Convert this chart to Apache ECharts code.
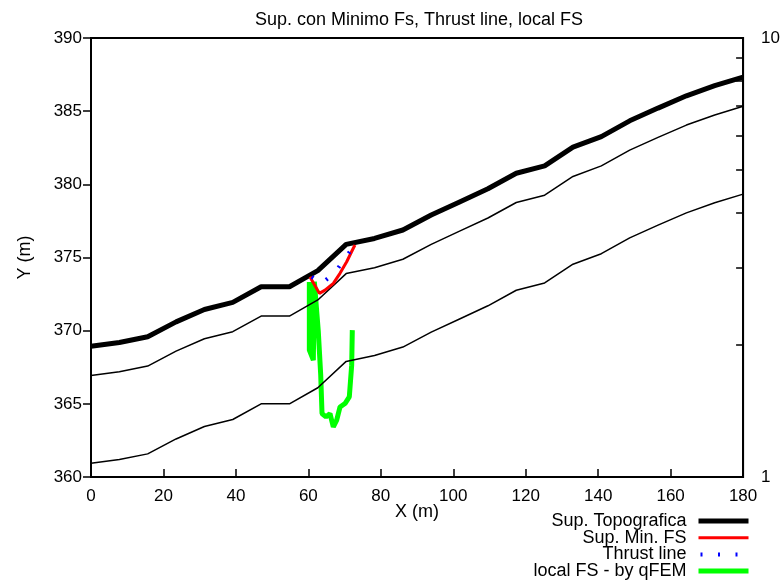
<!DOCTYPE html>
<html>
<head>
<meta charset="utf-8">
<script src="https://cdn.jsdelivr.net/npm/echarts@6/dist/echarts.min.js"></script>
<style>html,body{margin:0;padding:0;background:#fff}#c{width:783px;height:585px}</style>
</head>
<body>
<div id="c"></div>
<script>
// ---- data ----
var profileX = [0, 7.83, 15.65, 23.48, 31.3, 39.13, 46.96, 54.78, 62.61, 70.43, 78.26, 86.09, 93.91, 101.74, 109.57, 117.39, 125.22, 133.04, 140.87, 148.7, 156.52, 164.35, 172.17, 180];
var topoY = [368.94, 369.19, 369.58, 370.6, 371.45, 371.93, 373.0, 373.0, 374.1, 375.9, 376.3, 376.88, 377.9, 378.8, 379.7, 380.76, 381.26, 382.54, 383.26, 384.34, 385.21, 386.05, 386.74, 387.33];
var layer1Y = [366.94, 367.19, 367.58, 368.6, 369.45, 369.93, 371.0, 371.0, 372.1, 373.9, 374.3, 374.88, 375.9, 376.8, 377.7, 378.76, 379.26, 380.54, 381.26, 382.34, 383.21, 384.05, 384.74, 385.33];
var layer2Y = [360.94, 361.19, 361.58, 362.6, 363.45, 363.93, 365.0, 365.0, 366.1, 367.9, 368.3, 368.88, 369.9, 370.8, 371.7, 372.76, 373.26, 374.54, 375.26, 376.34, 377.21, 378.05, 378.74, 379.33];

var slipX = [60.46, 60.93, 63.03, 64.6, 66.89, 68.73, 70.58, 72.4, 72.87];
var slipY = [373.68, 373.46, 372.55, 372.77, 373.23, 373.92, 374.71, 375.63, 375.85];

var thrustX = [60.46, 63.69, 67.36, 70.11, 72.3];
var thrustY = [373.75, 373.23, 373.98, 374.94, 375.7];

var fsX = [60.27, 60.27, 61.37, 61.65, 62.75, 63.41, 63.77, 64.87, 65.97, 66.89, 67.82, 68.74, 70.11, 71.3, 71.96, 72.13];
var fsVal = [2.78, 1.945, 1.846, 2.785, 2.142, 1.706, 1.395, 1.37, 1.395, 1.30, 1.347, 1.444, 1.47, 1.522, 1.798, 2.161];

var xTicks = [0, 20, 40, 60, 80, 100, 120, 140, 160, 180];
var yTicks = [360, 365, 370, 375, 380, 385, 390];
var fsTicks = [1, 2, 3, 4, 5, 6, 7, 8, 9, 10];
var fsLabels = [1, 10];

var names = ['Sup. Topografica', 'Sup. Min. FS', 'Thrust line', 'local FS - by qFEM'];
var titleText = 'Sup. con Minimo Fs, Thrust line, local FS';

function zip(a, b) { return a.map(function (v, i) { return [v, b[i]]; }); }

var FONT = 'Liberation Sans';
var chart = echarts.init(document.getElementById('c'));
chart.setOption({
  animation: false,
  backgroundColor: '#fff',
  textStyle: { fontFamily: FONT, color: '#000' },
  title: {
    text: titleText, left: 250, top: 6,
    textStyle: { fontFamily: FONT, fontSize: 18, fontWeight: 'normal', color: '#000' }
  },
  grid: { left: 91, right: 39, top: 38, bottom: 108, show: true, borderColor: '#000', borderWidth: 2, containLabel: false },
  legend: {
    data: names,
    orient: 'vertical',
    right: 32, top: 512, height: 80,
    padding: 0,
    align: 'right',
    itemWidth: 50, itemHeight: 6, itemGap: -1.3,
    itemStyle: { opacity: 0 },
    lineStyle: { width: 'inherit' },
    textStyle: { fontFamily: FONT, fontSize: 18, color: '#000', width: 170, align: 'right', lineHeight: 17, padding: [0, 7, 0, 0] }
  },
  xAxis: {
    type: 'value', min: xTicks[0], max: xTicks[xTicks.length - 1], interval: 20,
    name: 'X (m)', nameLocation: 'middle', nameGap: 26, nameMoveOverlap: false,
    nameTextStyle: { fontFamily: FONT, fontSize: 18, color: '#000' },
    axisLine: { show: true, lineStyle: { color: '#000', width: 2 } },
    axisTick: { show: true, inside: true, length: 8, lineStyle: { color: '#000', width: 1.5 } },
    axisLabel: { fontFamily: FONT, fontSize: 17, color: '#000', margin: 11 },
    splitLine: { show: false }
  },
  yAxis: [{
    type: 'value', min: yTicks[0], max: yTicks[yTicks.length - 1], interval: 5,
    name: 'Y (m)', nameLocation: 'middle', nameGap: 57, nameMoveOverlap: false,
    nameTextStyle: { fontFamily: FONT, fontSize: 18, color: '#000' },
    axisLine: { show: true, lineStyle: { color: '#000', width: 2 } },
    axisTick: { show: true, inside: false, length: 8, lineStyle: { color: '#000', width: 1.5 } },
    axisLabel: { fontFamily: FONT, fontSize: 17, color: '#000', margin: 9 },
    splitLine: { show: false }
  }, {
    type: 'log', logBase: 10, min: 1, max: 10, position: 'right',
    axisLine: { show: true, lineStyle: { color: '#000', width: 2 } },
    axisTick: { show: true, inside: true, length: 7, customValues: fsTicks, lineStyle: { color: '#000', width: 1.5 } },
    axisLabel: { fontFamily: FONT, fontSize: 17, color: '#000', margin: 18, customValues: fsLabels },
    splitLine: { show: false }
  }],
  series: [
    { type: 'line', data: zip(profileX, layer2Y), symbol: 'none', lineStyle: { color: '#000', width: 1.5 }, silent: true },
    { type: 'line', data: zip(profileX, layer1Y), symbol: 'none', lineStyle: { color: '#000', width: 1.5 }, silent: true },
    { name: names[0], type: 'line', data: zip(profileX, topoY), symbol: 'none', color: '#000', lineStyle: { color: '#000', width: 5 } },
    { name: names[1], type: 'line', data: zip(slipX, slipY), symbol: 'none', color: '#ff0000', lineStyle: { color: '#ff0000', width: 3 } },
    { name: names[2], type: 'line', data: zip(thrustX, thrustY), symbol: 'none', color: '#0000ff', lineStyle: { color: '#0000ff', width: 4, type: [2, 15.5], dashOffset: -2 } },
    { name: names[3], type: 'line', yAxisIndex: 1, data: zip(fsX, fsVal), symbol: 'none', color: '#00ff00', lineStyle: { color: '#00ff00', width: 5 }, z: 1 }
  ]
});
</script>
</body>
</html>
